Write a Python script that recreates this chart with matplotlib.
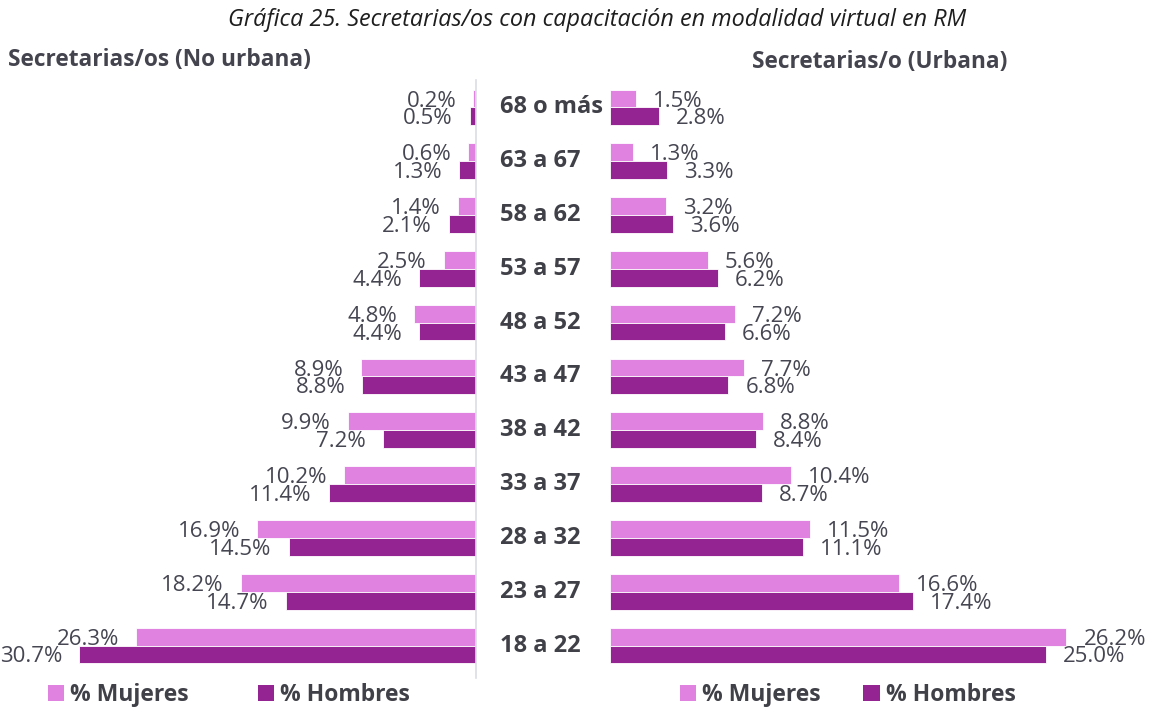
import matplotlib
matplotlib.use("Agg")
import matplotlib.pyplot as plt
from matplotlib.patches import Patch
from matplotlib.transforms import blended_transform_factory

plt.rcParams['font.family'] = ['Open Sans', 'DejaVu Sans']

categories = ["18 a 22", "23 a 27", "28 a 32", "33 a 37", "38 a 42", "43 a 47",
              "48 a 52", "53 a 57", "58 a 62", "63 a 67", "68 o más"]
no_urb_mujeres = [26.3, 18.2, 16.9, 10.2, 9.9, 8.9, 4.8, 2.5, 1.4, 0.6, 0.2]
no_urb_hombres = [30.7, 14.7, 14.5, 11.4, 7.2, 8.8, 4.4, 4.4, 2.1, 1.3, 0.5]
urb_mujeres = [26.2, 16.6, 11.5, 10.4, 8.8, 7.7, 7.2, 5.6, 3.2, 1.3, 1.5]
urb_hombres = [25.0, 17.4, 11.1, 8.7, 8.4, 6.8, 6.6, 6.2, 3.6, 3.3, 2.8]

title = "Gráfica 25. Secretarias/os con capacitación en modalidad virtual en RM"
left_title = "Secretarias/os (No urbana)"
right_title = "Secretarias/o (Urbana)"
legend_labels = ["% Mujeres", "% Hombres"]

C_M = "#E083E0"
C_H = "#942492"
TXT = "#464652"

W, H = 1153, 708
fig = plt.figure(figsize=(W / 100, H / 100), dpi=100)

ax_bottom_px, ax_top_px = 678, 80
bottom = 1 - ax_bottom_px / H
height = (ax_bottom_px - ax_top_px) / H
ylim = (-0.604, 10.51)

axL = fig.add_axes([0, bottom, 476 / W, height])
axR = fig.add_axes([610 / W, bottom, (W - 610) / W, height])

y = list(range(len(categories)))
bh = 0.331
yM = [v + bh / 2 for v in y]
yH = [v - bh / 2 for v in y]

axL.barh(yM, no_urb_mujeres, height=bh, color=C_M, edgecolor="white", linewidth=0.6)
axL.barh(yH, no_urb_hombres, height=bh, color=C_H, edgecolor="white", linewidth=0.6)
axR.barh(yM, urb_mujeres, height=bh, color=C_M, edgecolor="white", linewidth=0.6)
axR.barh(yH, urb_hombres, height=bh, color=C_H, edgecolor="white", linewidth=0.6)

axL.set_xlim(476 / 12.93, 0)
axR.set_xlim(0, (W - 610) / 17.42)
for ax in (axL, axR):
    ax.set_ylim(*ylim)
    ax.set_xticks([])
    ax.set_yticks([])
    for s in ax.spines.values():
        s.set_visible(False)
    ax.patch.set_alpha(0)
axL.spines['right'].set_visible(True)
axL.spines['right'].set_color("#dcdce6")
axL.spines['right'].set_linewidth(1.2)

fs_val = 16
for vals, ys in ((no_urb_mujeres, yM), (no_urb_hombres, yH)):
    for v, yy in zip(vals, ys):
        axL.annotate(f"{v:.1f}%", (v, yy), xytext=(-17, -2.5), textcoords="offset pixels",
                     ha="right", va="center", fontsize=fs_val, color=TXT, clip_on=False)
for vals, ys in ((urb_mujeres, yM), (urb_hombres, yH)):
    for v, yy in zip(vals, ys):
        axR.annotate(f"{v:.1f}%", (v, yy), xytext=(17, -2.5), textcoords="offset pixels",
                     ha="left", va="center", fontsize=fs_val, color=TXT, clip_on=False)

tr = blended_transform_factory(fig.transFigure, axR.transData)
for c, yy in zip(categories, y):
    axR.text(500 / W, yy, c, transform=tr, ha="left", va="center",
             fontsize=17, fontweight="bold", color="#404048", clip_on=False)

fig.text(597 / W, 1 - 20 / H, title, ha="center", va="center", fontsize=16.8,
         style="italic", color="#1e1e1e")
fig.text(8 / W, 1 - 60 / H, left_title, ha="left", va="center", fontsize=16.3,
         fontweight="bold", color="#44444f")
fig.text(752 / W, 1 - 62 / H, right_title, ha="left", va="center", fontsize=16.3,
         fontweight="bold", color="#44444f")

handles = [Patch(facecolor=C_M, edgecolor="none"), Patch(facecolor=C_H, edgecolor="none")]
for x0, cs in ((48, 3.0), (680, 1.85)):
    leg = fig.legend(handles, legend_labels, loc="center left",
                     bbox_to_anchor=(x0 / W, 1 - 695 / H), ncol=2, frameon=False,
                     handlelength=0.7, handleheight=0.7, handletextpad=0.28,
                     columnspacing=cs, borderaxespad=0, borderpad=0,
                     prop={"size": 16.5, "weight": "bold"})
    for t in leg.get_texts():
        t.set_color("#404048")

fig.savefig("out.png", dpi=100)
